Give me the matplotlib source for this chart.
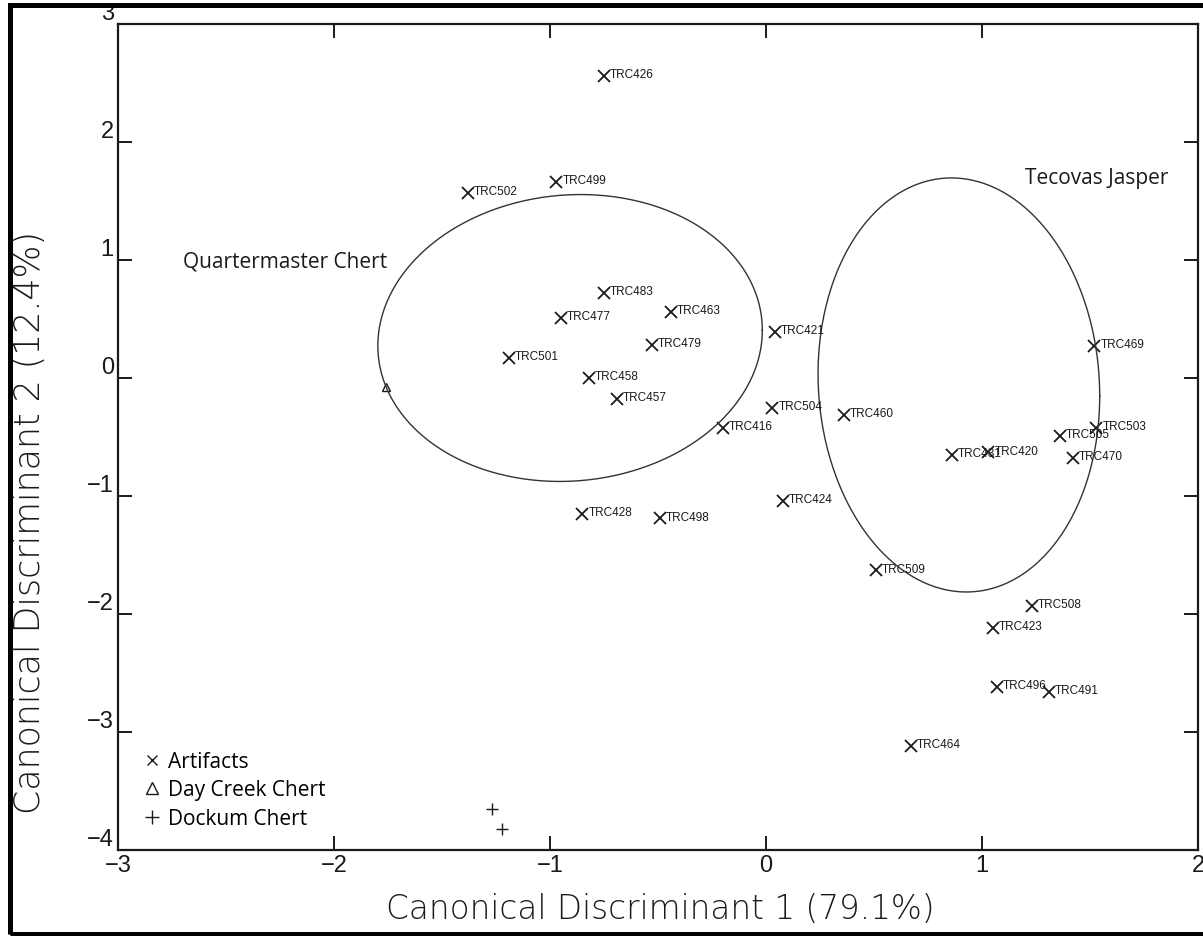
import numpy as np
import matplotlib
matplotlib.use("Agg")
import matplotlib.pyplot as plt
from matplotlib.lines import Line2D
from matplotlib.patches import Rectangle
from matplotlib.font_manager import FontProperties

# Canonical discriminant scores for the artifacts
labels = ["TRC426", "TRC499", "TRC502", "TRC483", "TRC477", "TRC463", "TRC421",
          "TRC479", "TRC501", "TRC458", "TRC457", "TRC504", "TRC416", "TRC460",
          "TRC469", "TRC503", "TRC505", "TRC470", "TRC431", "TRC420", "TRC424",
          "TRC428", "TRC498", "TRC509", "TRC508", "TRC423", "TRC496", "TRC491",
          "TRC464"]
cd1 = [-0.75, -0.97, -1.38, -0.75, -0.95, -0.44, 0.04,
       -0.53, -1.19, -0.82, -0.69, 0.03, -0.20, 0.36,
       1.52, 1.53, 1.36, 1.42, 0.86, 1.03, 0.08,
       -0.85, -0.49, 0.51, 1.23, 1.05, 1.07, 1.31,
       0.67]
cd2 = [2.56, 1.66, 1.57, 0.72, 0.51, 0.56, 0.39,
       0.28, 0.17, 0.00, -0.18, -0.25, -0.42, -0.31,
       0.27, -0.42, -0.49, -0.68, -0.65, -0.63, -1.04,
       -1.15, -1.19, -1.63, -1.93, -2.12, -2.62, -2.66,
       -3.12]

# geological source samples
day_creek_x = [-1.76]
day_creek_y = [-0.08]
dockum_x = [-1.27, -1.22]
dockum_y = [-3.65, -3.82]

# group ellipses: center and two conjugate half-axes (data units)
quarter_center = (-0.907, 0.339)
quarter_u = (0.890, 0.066)
quarter_v = (0.0, 1.214)
tecovas_center = (0.893, -0.059)
tecovas_u = (0.652, -0.093)
tecovas_v = (0.0, 1.752)


def ellipse_xy(center, u, v, n=400):
    t = np.linspace(0, 2 * np.pi, n)
    x = center[0] + u[0] * np.cos(t) + v[0] * np.sin(t)
    y = center[1] + u[1] * np.cos(t) + v[1] * np.sin(t)
    return x, y


fig = plt.figure(figsize=(12.03, 9.37), dpi=100)
ax = fig.add_axes([118 / 1203, 1 - 851 / 937, 1080 / 1203, 826 / 937])

ink = "#1a1a1a"

ax.plot(cd1, cd2, ls="none", marker="x", ms=8.5, mew=1.3, color=ink)
ax.plot(day_creek_x, day_creek_y, ls="none", marker="^", ms=6, mfc="none",
        mew=1.0, color=ink)
ax.plot(dockum_x, dockum_y, ls="none", marker="+", ms=8, mew=1.0, color=ink)

for name, x, y in zip(labels, cd1, cd2):
    ax.annotate(name, (x, y), xytext=(4.3, 1.3), textcoords="offset points",
                ha="left", va="center", fontsize=8.5, family="Liberation Sans",
                color=ink)

for c, u, v in [(quarter_center, quarter_u, quarter_v),
                (tecovas_center, tecovas_u, tecovas_v)]:
    ex, ey = ellipse_xy(c, u, v)
    ax.plot(ex, ey, color="#333333", lw=1.0)

group_font = FontProperties(family="Open Sans", size=15)
ax.text(-2.70, 0.99, "Quartermaster Chert", fontproperties=group_font,
        ha="left", va="center", color=ink)
ax.text(1.20, 1.70, "Tecovas Jasper", fontproperties=group_font,
        ha="left", va="center", color=ink)

ax.set_xlim(-3, 2)
ax.set_ylim(-4, 3)
ax.set_xticks(np.arange(-3, 3))
ax.set_yticks(np.arange(-4, 4))
ax.set_xticklabels(["\u22123", "\u22122", "\u22121", "0", "1", "2"])
ax.set_yticklabels(["\u22124", "\u22123", "\u22122", "\u22121", "0", "1", "2", "3"])
ax.tick_params(direction="in", length=10, width=1.4, color=ink,
               top=True, right=True, labelsize=17, pad=3)
for lab in ax.get_xticklabels() + ax.get_yticklabels():
    lab.set_family("Liberation Sans")
    lab.set_color(ink)
for lab in ax.get_yticklabels():
    lab.set_verticalalignment("bottom")
for sp in ax.spines.values():
    sp.set_linewidth(1.6)
    sp.set_color(ink)

handles = [
    Line2D([], [], ls="none", marker="x", ms=7, mew=1.0, color=ink),
    Line2D([], [], ls="none", marker="^", ms=8, mfc="none", mew=1.0, color=ink),
    Line2D([], [], ls="none", marker="+", ms=10, mew=1.0, color=ink),
]
ax.legend(handles, ["Artifacts", "Day Creek Chert", "Dockum Chert"],
          loc="upper left", bbox_to_anchor=(0.022, 0.12), frameon=False,
          prop=FontProperties(family="Open Sans", size=15),
          handlelength=1.0, handletextpad=0.25, labelspacing=0.36,
          borderpad=0, borderaxespad=0)

fig.text(660 / 1203, 1 - 910 / 937, "Canonical Discriminant 1 (79.1%)",
         ha="center", va="center", fontsize=23.5, family="DejaVu Sans",
         weight="light", color=ink)
fig.text(30 / 1203, 1 - 522 / 937, "Canonical Discriminant 2 (12.4%)",
         ha="center", va="center", rotation=90, fontsize=25,
         family="DejaVu Sans", weight="light", color=ink)

# black frame round the whole figure
fig.add_artist(Rectangle((10 / 1203, 2 / 937), 1.02, 1 - 8 / 937,
                         transform=fig.transFigure, fill=False,
                         lw=3.6, ec="black", clip_on=False))

fig.savefig("out.png", dpi=100)
